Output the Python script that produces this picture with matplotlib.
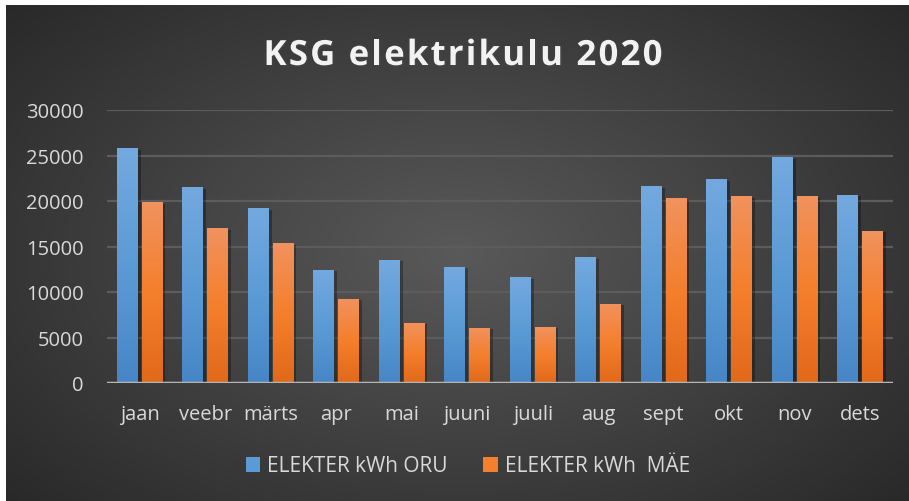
import numpy as np
import matplotlib.pyplot as plt
from matplotlib.patches import Patch
from matplotlib.colors import LinearSegmentedColormap
import matplotlib.patheffects as pe

MONTHS = ["jaan", "veebr", "märts", "apr", "mai", "juuni",
          "juuli", "aug", "sept", "okt", "nov", "dets"]
ORU = [25800, 21500, 19200, 12450, 13550, 12800,
       11600, 13800, 21600, 22400, 24800, 20700]
MAE = [19850, 17000, 15350, 9250, 6600, 6050,
       6150, 8700, 20300, 20500, 20500, 16750]
SERIES_LABELS = ["ELEKTER kWh ORU", "ELEKTER kWh  MÄE"]
Y_TICKS = [0, 5000, 10000, 15000, 20000, 25000, 30000]
TITLE = "KSG elektrikulu 2020"

BLUE = ("#73a9df", "#5b9bd5", "#4786c6")
ORANGE = ("#f1925e", "#f47f2c", "#e1691a")
TEXT = "#d9d9d9"
FONT = ["Open Sans", "DejaVu Sans"]

plt.rcParams["font.family"] = FONT

fig = plt.figure(figsize=(9.09, 5.02), dpi=100)
fig.patch.set_facecolor("white")

# dark radial background
bg = fig.add_axes([6 / 909, 0, 903 / 909, 496 / 502])
bg.set_axis_off()
yy, xx = np.mgrid[-1:1:300j, -1:1:500j]
r = np.sqrt((xx * 0.95) ** 2 + (yy * 0.85) ** 2)
shade = np.clip(1 - r / 1.35, 0, 1)
lo = np.array([0.15, 0.15, 0.15])
hi = np.array([0.35, 0.35, 0.35])
img = lo + (hi - lo) * shade[..., None]
bg.imshow(img, aspect="auto", extent=[0, 1, 0, 1], interpolation="bilinear")
bg.set_xlim(0, 1)
bg.set_ylim(0, 1)

ax = fig.add_axes([107 / 909, 1 - 384 / 502, 786 / 909, 273 / 502])
ax.set_facecolor("none")
for s in ax.spines.values():
    s.set_visible(False)

x = np.arange(len(MONTHS))
w = 0.32
off = 0.19

shadow = [pe.SimplePatchShadow(offset=(2, -1), shadow_rgbFace="black", alpha=0.3), pe.Normal()]
bars_oru = ax.bar(x - off, ORU, w, color=BLUE[1], zorder=3, path_effects=shadow)
bars_mae = ax.bar(x + off, MAE, w, color=ORANGE[1], zorder=3, path_effects=shadow)


def gradient_fill(bars, cols):
    cmap = LinearSegmentedColormap.from_list("g", [cols[2], cols[1], cols[0]])
    grad = np.linspace(0, 1, 256).reshape(-1, 1)
    for rect in bars:
        x0 = rect.get_x()
        h = rect.get_height()
        im = ax.imshow(grad, cmap=cmap, aspect="auto", origin="lower",
                       extent=[x0, x0 + rect.get_width(), 0, h], zorder=3.5)
        im.set_clip_path(rect)


gradient_fill(bars_oru, BLUE)
gradient_fill(bars_mae, ORANGE)

ax.set_xlim(-0.5, len(MONTHS) - 0.5)
ax.set_ylim(0, 30000)
ax.set_yticks(Y_TICKS)
ax.set_yticklabels([str(t) for t in Y_TICKS])
ax.set_xticks(x)
ax.set_xticklabels(MONTHS)
ax.tick_params(axis="both", length=0, labelsize=14.5, colors=TEXT)
ax.tick_params(axis="y", pad=17)
ax.tick_params(axis="x", pad=15)

ax.grid(axis="y", color="#5c5c5c", linewidth=1.6, zorder=0)
ax.set_axisbelow(True)
ax.axhline(0, color="#b5b5b5", linewidth=2.5, zorder=4)

# spaced-out title: place glyphs one by one with extra tracking
renderer = fig.canvas.get_renderer()
tracking = 2.2  # px between glyphs
title_style = dict(fontsize=25, fontweight="bold", color="#f2f2f2", va="center",
                   path_effects=[pe.withSimplePatchShadow(offset=(1, -1), alpha=0.5)])
space_w = fig.text(0, 0, "a a", **title_style)
aa = fig.text(0, 0, "aa", **title_style)
gap = (space_w.get_window_extent(renderer).width - aa.get_window_extent(renderer).width)
space_w.remove()
aa.remove()
widths = []
for ch in TITLE:
    if ch == " ":
        widths.append(gap)
        continue
    t = fig.text(0, 0, ch, **title_style)
    widths.append(t.get_window_extent(renderer).width)
    t.remove()
total = sum(widths) + tracking * (len(TITLE) - 1)
xpos = 463 - total / 2
for ch, cw in zip(TITLE, widths):
    if ch != " ":
        fig.text(xpos / 909, 1 - 57 / 502, ch, ha="left", **title_style)
    xpos += cw + tracking

handles = [Patch(facecolor=BLUE[1]), Patch(facecolor=ORANGE[1])]
leg = fig.legend(handles, SERIES_LABELS, loc="center", ncol=2,
                 bbox_to_anchor=(468 / 909, 1 - 467 / 502), frameon=False,
                 fontsize=15, handlelength=0.7, handleheight=0.7,
                 handletextpad=0.35, columnspacing=1.7)
for t in leg.get_texts():
    t.set_color(TEXT)

fig.savefig("out.png", dpi=100)
